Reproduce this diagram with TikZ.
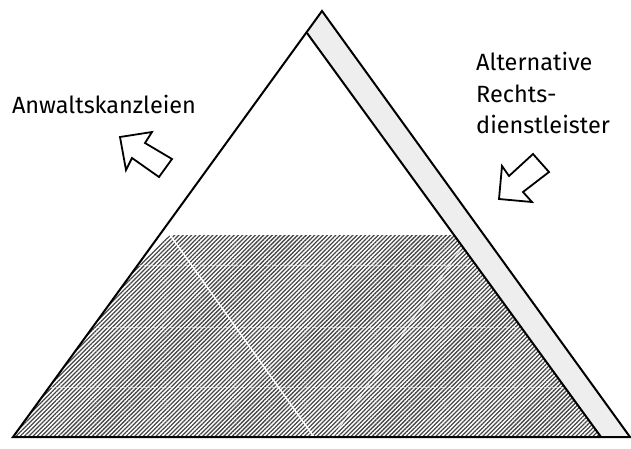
\documentclass[tikz,border=0pt]{standalone}
\usepackage{fontspec}
\setmainfont{Fira Sans}
\usetikzlibrary{calc,patterns.meta}
\begin{document}
\begin{tikzpicture}[x=1pt,y=-1pt]
 \tikzstyle{edge}=[draw=black,line width=2pt,line join=miter]
 \tikzstyle{lbl}=[inner sep=0,font=\fontsize{23.5}{31.5}\selectfont]
 \tikzstyle{blockarrow}=[draw=black,line width=1.8pt,line join=miter,fill=white]
 \tikzstyle{gap}=[draw=white,line width=1.4pt]
 \tikzstyle{seam}=[draw=white,line width=0.4pt,opacity=0.6,dash pattern=on 6pt off 2pt]
 \useasboundingbox (0,0) rectangle (631,448);
 \coordinate (BL) at (13,437);
 \coordinate (Top) at (322,11);
 \coordinate (BR) at (630,437);
 \coordinate (Ti) at (307,33);
 \coordinate (BRi) at (601,437);
 \coordinate (Hl) at (170,235);
 \coordinate (Hr) at ($(Ti)!0.5!(BRi)$);
 \coordinate (He) at ($(BL)!0.433!(Ti)$);
 % band on the right side
 \fill[gray!13] (Ti) -- (Top) -- (BR) -- (BRi) -- cycle;
 % hatched lower part
 \begin{scope}
  \clip (Hl) -- (Hr) -- (BRi) -- (BL) -- (He) -- cycle;
  \fill[pattern={Lines[angle=45,distance=3pt,line width=1.3pt]},pattern color=gray!55!black] (0,230) rectangle (631,440);
  \draw[seam] (0,265) -- (631,265);
  \draw[seam] (0,327) -- (631,327);
  \draw[seam] (0,387) -- (631,387);
  \draw[gap] (Hl) -- (314,437);
  \draw[gap,line width=0.9pt,opacity=0.8,dash pattern=on 30pt off 3pt] (462,247) -- (333,437);
 \end{scope}
 \draw[edge] (BL) -- (Top) -- (BR) -- cycle;
 \draw[edge] (Ti) -- (BRi);
 % block arrows
 \draw[blockarrow] (120,137) -- (152,132) -- (145,143) -- (172,159) -- (159,177) -- (132,158) -- (126,170) -- cycle;
 \draw[blockarrow] (533,154) -- (549,172) -- (523,192) -- (532,202) -- (499,199) -- (502,166) -- (509,176) -- cycle;
 \node[lbl] (kanzlei) at (104,104) {Anwaltskanzleien};
 \node[lbl,align=left,anchor=west] (alt) at (476,93) {Alternative\\Rechts-\\dienstleister};
\end{tikzpicture}
\end{document}
